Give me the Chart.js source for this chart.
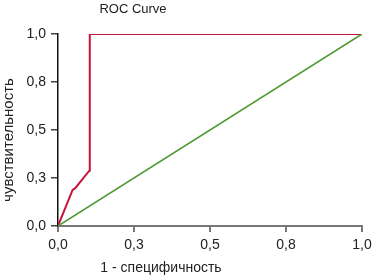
<!DOCTYPE html>
<html>
<head>
<meta charset="utf-8">
<script src="https://cdn.jsdelivr.net/npm/chart.js@4"></script>
<style>
  html, body { margin: 0; padding: 0; background: #fff; }
  #wrap { width: 373px; height: 280px; }
</style>
</head>
<body>
<div id="wrap"><canvas id="chart"></canvas></div>
<script>
// ROC curve values (1 - specificity, sensitivity)
const rocX = [0, 0.048, 0.056, 0.103, 0.104, 0.105, 1];
const rocY = [0, 0.188, 0.196, 0.288, 0.448, 1, 1];
// reference diagonal
const diagX = [0, 1];
const diagY = [0, 1];
const tickLabels = ['0,0', '0,3', '0,5', '0,8', '1,0'];

const titleText = 'ROC Curve';
const xTitle = '1 - специфичность';
const yTitle = 'чувствительность';
const font = "'Liberation Sans Narrow', 'Liberation Sans', Arial, sans-serif";

function toPoints(xs, ys) {
    return xs.map((x, i) => ({ x: x, y: ys[i] }));
}

// titles are drawn by hand since they are not centred on the plot
const textPlugin = {
    id: 'texts',
    afterDraw(chart) {
        const c = chart.ctx;
        c.save();
        c.fillStyle = '#222';
        c.textAlign = 'center';
        c.textBaseline = 'middle';
        c.font = '13px ' + font;
        c.fillText(titleText, 133, 9);
        c.font = '14px ' + font;
        c.fillText(xTitle, 161, 268);
        c.font = '15px ' + font;
        c.translate(9, 140);
        c.rotate(-Math.PI / 2);
        c.fillText(yTitle, 0, 0);
        c.restore();
    }
};

const ctx = document.getElementById('chart').getContext('2d');
const chart = new Chart(ctx, {
    type: 'scatter',
    data: {
        datasets: [
            {
                data: toPoints(diagX, diagY),
                showLine: true,
                borderColor: '#4f9a35',
                borderWidth: 1.6,
                pointRadius: 0,
                tension: 0
            },
            {
                data: toPoints(rocX, rocY),
                showLine: true,
                borderColor: '#c4163a',
                borderWidth: 2,
                pointRadius: 0,
                tension: 0
            }
        ]
    },
    options: {
        responsive: true,
        maintainAspectRatio: false,
        animation: false,
        layout: { padding: { top: 34, right: 11, left: 0, bottom: 0 } },
        plugins: {
            legend: { display: false },
            tooltip: { enabled: false }
        },
        scales: {
            x: {
                type: 'linear',
                min: 0,
                max: 1,
                afterFit: scale => {
                    scale.height = 54;
                    scale.paddingRight = 0;
                    scale.paddingLeft = 0;
                },
                border: { color: '#777', width: 2 },
                grid: { drawOnChartArea: false, drawTicks: true, tickLength: 6, color: '#777', lineWidth: 2 },
                ticks: {
                    stepSize: 0.25,
                    padding: 5,
                    maxRotation: 0,
                    color: '#222',
                    font: { family: font, size: 14 },
                    callback: (v, i) => tickLabels[i]
                }
            },
            y: {
                type: 'linear',
                min: 0,
                max: 1,
                afterFit: scale => { scale.width = 58; },
                border: { color: '#111', width: 1.5 },
                grid: { drawOnChartArea: false, drawTicks: true, tickLength: 7, color: '#444', lineWidth: 1.5 },
                ticks: {
                    stepSize: 0.25,
                    padding: 5,
                    color: '#222',
                    font: { family: font, size: 14 },
                    callback: (v, i) => tickLabels[i]
                }
            }
        }
    },
    plugins: [textPlugin]
});
</script>
</body>
</html>
